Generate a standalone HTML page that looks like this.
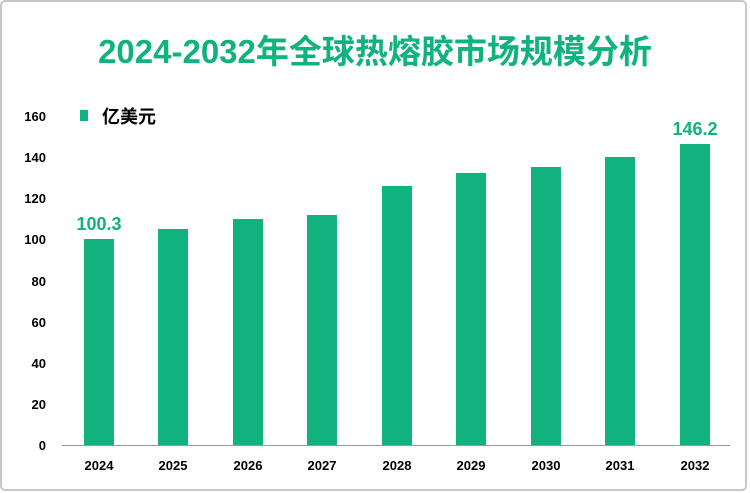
<!DOCTYPE html>
<html><head><meta charset="utf-8"><style>
body{margin:0;background:#fff;}
svg{display:block;font-family:"Liberation Sans","Noto Sans CJK SC",sans-serif;}
</style></head><body>
<svg width="750" height="493" viewBox="0 0 750 493">
<rect x="1" y="1" width="745" height="489" rx="4" fill="#fff" stroke="#c8c8c8" stroke-width="2"/>
<text x="375" y="63" text-anchor="middle" font-size="33" font-weight="bold" fill="#10b27e">2024-2032年全球热熔胶市场规模分析</text>
<rect x="80" y="110" width="8" height="11" fill="#10b27e"/>
<text x="102" y="123" font-size="18" font-weight="bold" fill="#000">亿美元</text>
<g font-size="13" font-weight="bold" fill="#000" text-anchor="end">
<text x="46" y="450">0</text>
<text x="46" y="409">20</text>
<text x="46" y="368">40</text>
<text x="46" y="327">60</text>
<text x="46" y="286">80</text>
<text x="46" y="244">100</text>
<text x="46" y="203">120</text>
<text x="46" y="162">140</text>
<text x="46" y="121">160</text>
</g>
<g fill="#10b27e">
<rect x="84" y="239" width="30" height="206"/>
<rect x="158" y="229" width="30" height="216"/>
<rect x="233" y="219" width="30" height="226"/>
<rect x="307" y="215" width="30" height="230"/>
<rect x="382" y="186" width="30" height="259"/>
<rect x="456" y="173" width="30" height="272"/>
<rect x="531" y="167" width="30" height="278"/>
<rect x="605" y="157" width="30" height="288"/>
<rect x="680" y="144" width="30" height="301"/>
</g>
<line x1="62" y1="445.5" x2="730" y2="445.5" stroke="#999" stroke-width="1"/>
<g font-size="13" font-weight="bold" fill="#000" text-anchor="middle">
<text x="99" y="470">2024</text>
<text x="173" y="470">2025</text>
<text x="248" y="470">2026</text>
<text x="322" y="470">2027</text>
<text x="397" y="470">2028</text>
<text x="471" y="470">2029</text>
<text x="546" y="470">2030</text>
<text x="620" y="470">2031</text>
<text x="695" y="470">2032</text>
</g>
<g font-size="18" font-weight="bold" fill="#10b27e" text-anchor="middle">
<text x="99" y="230">100.3</text>
<text x="695" y="135">146.2</text>
</g>
</svg>
</body></html>
